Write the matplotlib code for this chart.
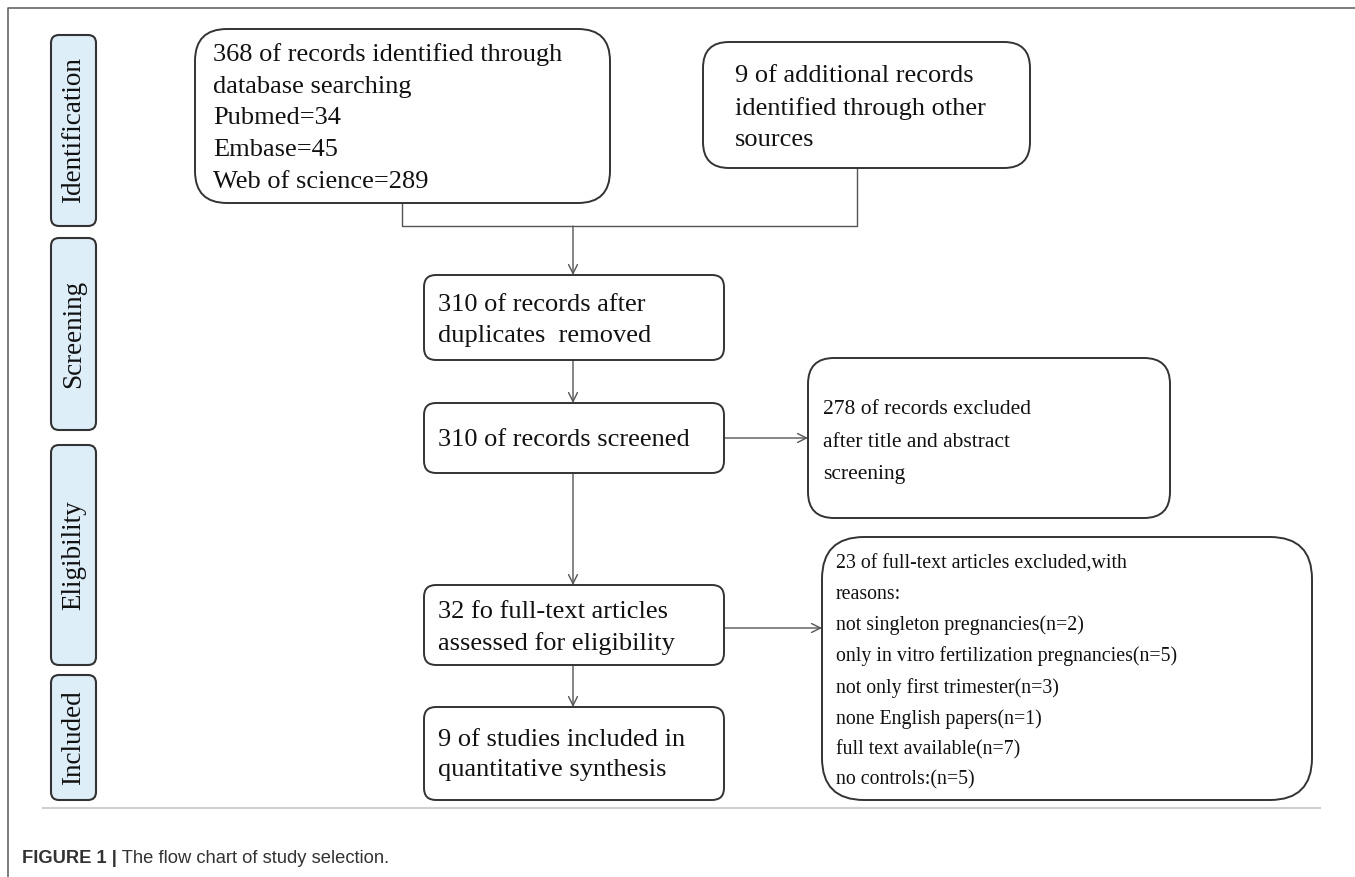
import matplotlib.pyplot as plt
from matplotlib.patches import FancyBboxPatch

# counts shown in the flow chart
n_database = 368
n_pubmed = 34
n_embase = 45
n_wos = 289
n_other = 9
n_after_dup = 310
n_screened = 310
n_excl_screen = 278
n_fulltext = 32
n_excl_full = 23
reasons = ["not singleton pregnancies", "only in vitro fertilization pregnancies",
           "not only first trimester", "none English papers",
           "full text available", "no controls:"]
reason_counts = [2, 5, 3, 1, 7, 5]
n_included = 9

stages = ["Identification", "Screening", "Eligibility", "Included"]
caption_bold = "FIGURE 1 |"
caption_text = "The flow chart of study selection."

txt_db = (f"{n_database} of records identified through\ndatabase searching\n"
          f"Pubmed={n_pubmed}\nEmbase={n_embase}\nWeb of science={n_wos}")
txt_other = f"{n_other} of additional records\nidentified through other\nsources"
txt_dup = f"{n_after_dup} of records after\nduplicates  removed"
txt_scr = f"{n_screened} of records screened"
txt_excl1 = f"{n_excl_screen} of records excluded\nafter title and abstract\nscreening"
txt_full = f"{n_fulltext} fo full-text articles\nassessed for eligibility"
txt_excl2 = (f"{n_excl_full} of full-text articles excluded,with\nreasons:\n"
             + "\n".join(f"{r}(n={c})" for r, c in zip(reasons, reason_counts)))
txt_inc = f"{n_included} of studies included in\nquantitative synthesis"

W, H = 1355, 877
fig = plt.figure(figsize=(W / 100, H / 100), dpi=100)
ax = fig.add_axes([0, 0, 1, 1])
ax.set_xlim(0, W)
ax.set_ylim(H, 0)
ax.axis("off")

SERIF = "Liberation Serif"
EDGE = "#333333"
LINE = "#555555"


def box(x0, y0, x1, y1, r, fc="white", lw=1.4):
    p = FancyBboxPatch((x0, y0), x1 - x0, y1 - y0,
                       boxstyle=f"round,pad=0,rounding_size={r}",
                       fc=fc, ec=EDGE, lw=lw, zorder=3)
    ax.add_patch(p)


def arrow(x0, y0, x1, y1):
    ax.annotate("", xy=(x1, y1), xytext=(x0, y0),
                arrowprops=dict(arrowstyle="->", color=LINE, lw=1.0,
                                mutation_scale=16, shrinkA=0, shrinkB=0),
                zorder=2)


# outer frame and separator
ax.plot([8, 8, W], [H, 8, 8], color="#666666", lw=1.2, clip_on=False)
ax.plot([43, 1320], [808, 808], color="#d0d0d0", lw=1.5)

# stage labels on the left
stage_spans = [(35, 226), (238, 430), (445, 665), (675, 800)]
for name, (ya, yb) in zip(stages, stage_spans):
    box(51, ya, 96, yb, 8, fc="#ddeef9", lw=1.5)
    ax.text(74, (ya + yb) / 2, name, rotation=90, ha="center", va="center",
            family=SERIF, fontsize=19.5, color="#111111", zorder=4)

# connectors
ax.plot([402, 402, 857, 857], [203, 226, 226, 168], color=LINE, lw=1.0, zorder=2)
arrow(573, 226, 573, 275)
arrow(573, 360, 573, 403)
arrow(724, 438, 808, 438)
arrow(573, 473, 573, 585)
arrow(724, 628, 822, 628)
arrow(573, 665, 573, 707)

# flow boxes: rect, corner radius, text, font size, line spacing, text anchor
boxes = [
    ((195, 29, 610, 203), 32, txt_db, 19, 1.57, (213, 43)),
    ((703, 42, 1030, 168), 26, txt_other, 19, 1.53, (735, 65)),
    ((424, 275, 724, 360), 12, txt_dup, 19, 1.52, (438, 294)),
    ((424, 403, 724, 473), 12, txt_scr, 19, 1.52, (438, 429)),
    ((808, 358, 1170, 518), 26, txt_excl1, 15.5, 1.98, (823, 400)),
    ((424, 585, 724, 665), 12, txt_full, 19, 1.52, (438, 601)),
    ((822, 537, 1312, 800), 42, txt_excl2, 14.3, 1.77, (836, 555)),
    ((424, 707, 724, 800), 12, txt_inc, 19, 1.48, (438, 729)),
]
for (x0, y0, x1, y1), r, t, fs, ls, (tx, ty) in boxes:
    box(x0, y0, x1, y1, r)
    ax.text(tx, ty, t, ha="left", va="top", family=SERIF, fontsize=fs,
            linespacing=ls, color="#111111", zorder=4)

# caption
cap = ax.text(22, 863, caption_bold, ha="left", va="baseline",
              family="Liberation Sans", fontsize=13.2, fontweight="bold",
              color="#333333")
ax.annotate(" " + caption_text, xy=(1, 0), xycoords=cap, va="bottom",
            family="Liberation Sans", fontsize=13.2, color="#333333")

fig.savefig("out.png", dpi=100)
